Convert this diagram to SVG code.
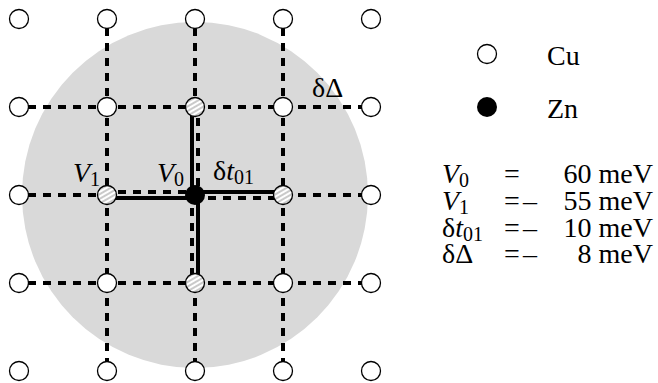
<svg xmlns="http://www.w3.org/2000/svg" width="658" height="383" viewBox="0 0 658 383">
<style>
text{font-family:"Liberation Serif","Times New Roman",serif;font-size:28px;fill:#000}
.it{font-style:italic}
.sub{font-size:20px}
.dash{stroke:#000;stroke-width:4;stroke-dasharray:8 7;fill:none}
.solid{stroke:#000;stroke-width:4;fill:none}
.cu{fill:#fff;stroke:#000;stroke-width:1.3}
.hat{fill:url(#hatch);stroke:#000;stroke-width:1.3}
.zn{fill:#000}
</style>
<defs>
<pattern id="hatch" patternUnits="userSpaceOnUse" width="4" height="4" patternTransform="rotate(-30)">
<rect width="4" height="4" fill="#fff"/>
<line x1="0" y1="2" x2="4" y2="2" stroke="#777" stroke-width="0.8"/>
</pattern>
</defs>
<circle cx="195" cy="195" r="173" fill="#d9d9d9"/>
<g id="connectors">
<path class="dash" stroke-dashoffset="6" d="M19,107H371M19,283H371M107,19V371M283,19V371"/>
<path class="dash" stroke-dashoffset="6" d="M19,195H107M195,19V107"/>
<path class="dash" stroke-dashoffset="4" d="M107,192H195M198,107V195"/>
<path class="dash" stroke-dashoffset="2" d="M195,198H283M192,195V283"/>
<path class="dash" stroke-dashoffset="0" d="M283,195H371M195,283V371"/>
<path class="solid" d="M192,107V195M195,192H283M198,195V283M195,198H107"/>
</g>
<g id="nodes">
<circle class="cu" cx="19" cy="19" r="9.5"/>
<circle class="cu" cx="107" cy="19" r="9.5"/>
<circle class="cu" cx="195" cy="19" r="9.5"/>
<circle class="cu" cx="283" cy="19" r="9.5"/>
<circle class="cu" cx="371" cy="19" r="9.5"/>
<circle class="cu" cx="19" cy="107" r="9.5"/>
<circle class="cu" cx="107" cy="107" r="9.5"/>
<circle class="hat" cx="195" cy="107" r="9.5"/>
<circle class="cu" cx="283" cy="107" r="9.5"/>
<circle class="cu" cx="371" cy="107" r="9.5"/>
<circle class="cu" cx="19" cy="195" r="9.5"/>
<circle class="hat" cx="107" cy="195" r="9.5"/>
<circle class="zn" cx="195" cy="195" r="10"/>
<circle class="hat" cx="283" cy="195" r="9.5"/>
<circle class="cu" cx="371" cy="195" r="9.5"/>
<circle class="cu" cx="19" cy="283" r="9.5"/>
<circle class="cu" cx="107" cy="283" r="9.5"/>
<circle class="hat" cx="195" cy="283" r="9.5"/>
<circle class="cu" cx="283" cy="283" r="9.5"/>
<circle class="cu" cx="371" cy="283" r="9.5"/>
<circle class="cu" cx="19" cy="371" r="9.5"/>
<circle class="cu" cx="107" cy="371" r="9.5"/>
<circle class="cu" cx="195" cy="371" r="9.5"/>
<circle class="cu" cx="283" cy="371" r="9.5"/>
<circle class="cu" cx="371" cy="371" r="9.5"/>
</g>
<g id="labels">
<text x="73" y="182"><tspan class="it">V</tspan><tspan class="sub" dy="4">1</tspan></text>
<text x="157" y="182"><tspan class="it">V</tspan><tspan class="sub" dy="4">0</tspan></text>
<text x="213" y="180"><tspan>δ</tspan><tspan class="it">t</tspan><tspan class="sub" dy="4">01</tspan></text>
<text x="312" y="97">δΔ</text>
</g>
<g id="legend">
<circle class="cu" cx="487" cy="54" r="9.5"/>
<text x="547" y="65">Cu</text>
<circle class="zn" cx="487" cy="107" r="10"/>
<text x="547" y="118">Zn</text>
</g>
<g id="params">
<text x="442" y="183"><tspan class="it">V</tspan><tspan class="sub" dy="4">0</tspan></text>
<text x="504" y="183">=</text>
<text x="653" y="183" text-anchor="end">60 meV</text>
<text x="442" y="210"><tspan class="it">V</tspan><tspan class="sub" dy="4">1</tspan></text>
<text x="504" y="210">=</text>
<text x="523" y="210">–</text>
<text x="653" y="210" text-anchor="end">55 meV</text>
<text x="442" y="237"><tspan>δ</tspan><tspan class="it">t</tspan><tspan class="sub" dy="4">01</tspan></text>
<text x="504" y="237">=</text>
<text x="523" y="237">–</text>
<text x="653" y="237" text-anchor="end">10 meV</text>
<text x="442" y="263">δΔ</text>
<text x="504" y="263">=</text>
<text x="523" y="263">–</text>
<text x="653" y="263" text-anchor="end">8 meV</text>
</g>
</svg>
